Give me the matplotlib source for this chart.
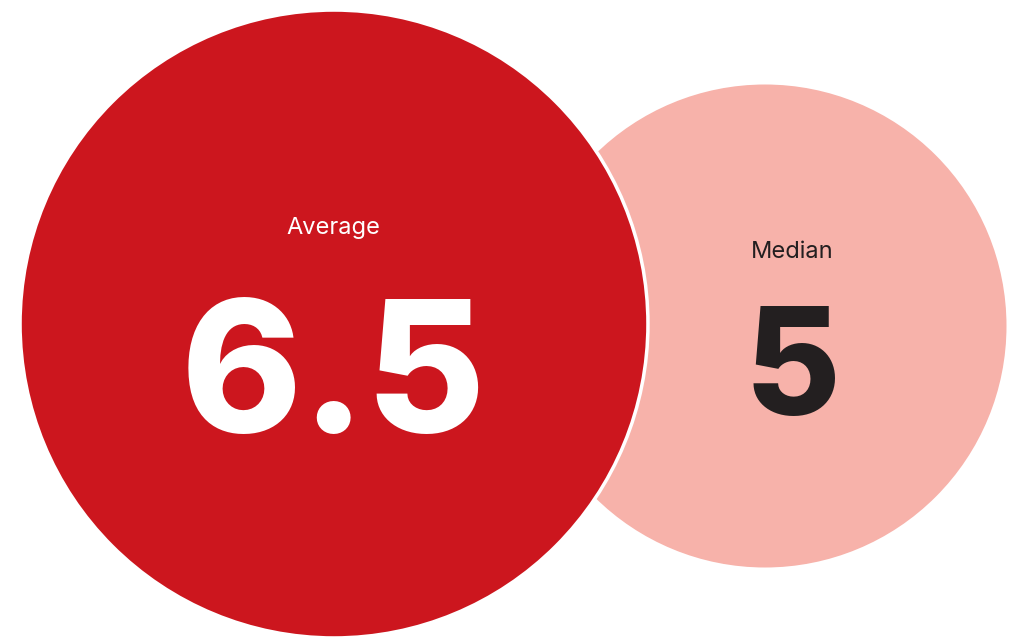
import matplotlib
matplotlib.use("Agg")
import matplotlib.pyplot as plt
from matplotlib.patches import Circle


# =====================================
# DATA
# =====================================

labels = ["Average", "Median"]
values = [6.5, 5]

fills = ["#CC161E", "#F7B2AA"]
text_colors = ["#FFFFFF", "#231F20"]

# circle centres (pixel units) and text baselines inside each circle
centres = [(334, 324), (765, 326)]
text_x = [333, 792]
label_base = [234, 258]
value_base = [432, 415]
value_sizes = [132, 106]

PX_PER_UNIT = 48.3


# =====================================
# FIGURE
# =====================================

fig = plt.figure(figsize=(10.15, 6.38), dpi=100)
ax = fig.add_axes([0, 0, 1, 1])
ax.set_xlim(0, 1015)
ax.set_ylim(638, 0)
ax.set_aspect("equal")
ax.axis("off")

font = ["Inter", "DejaVu Sans"]

# draw the smaller circle first so the bigger one overlaps it
for i in [1, 0]:
    r = values[i] * PX_PER_UNIT
    ax.add_patch(Circle(
        centres[i], r,
        facecolor=fills[i],
        edgecolor="white" if i == 0 else "none",
        linewidth=2.5,
        zorder=1 if i == 1 else 2
    ))

    ax.text(
        text_x[i], label_base[i], labels[i],
        ha="center", va="baseline",
        fontsize=17, color=text_colors[i],
        family=font, zorder=3
    )

    ax.text(
        text_x[i], value_base[i], f"{values[i]:g}",
        ha="center", va="baseline",
        fontsize=value_sizes[i], fontweight="heavy",
        color=text_colors[i], family=font, zorder=3
    )

fig.savefig("out.png", dpi=100)
